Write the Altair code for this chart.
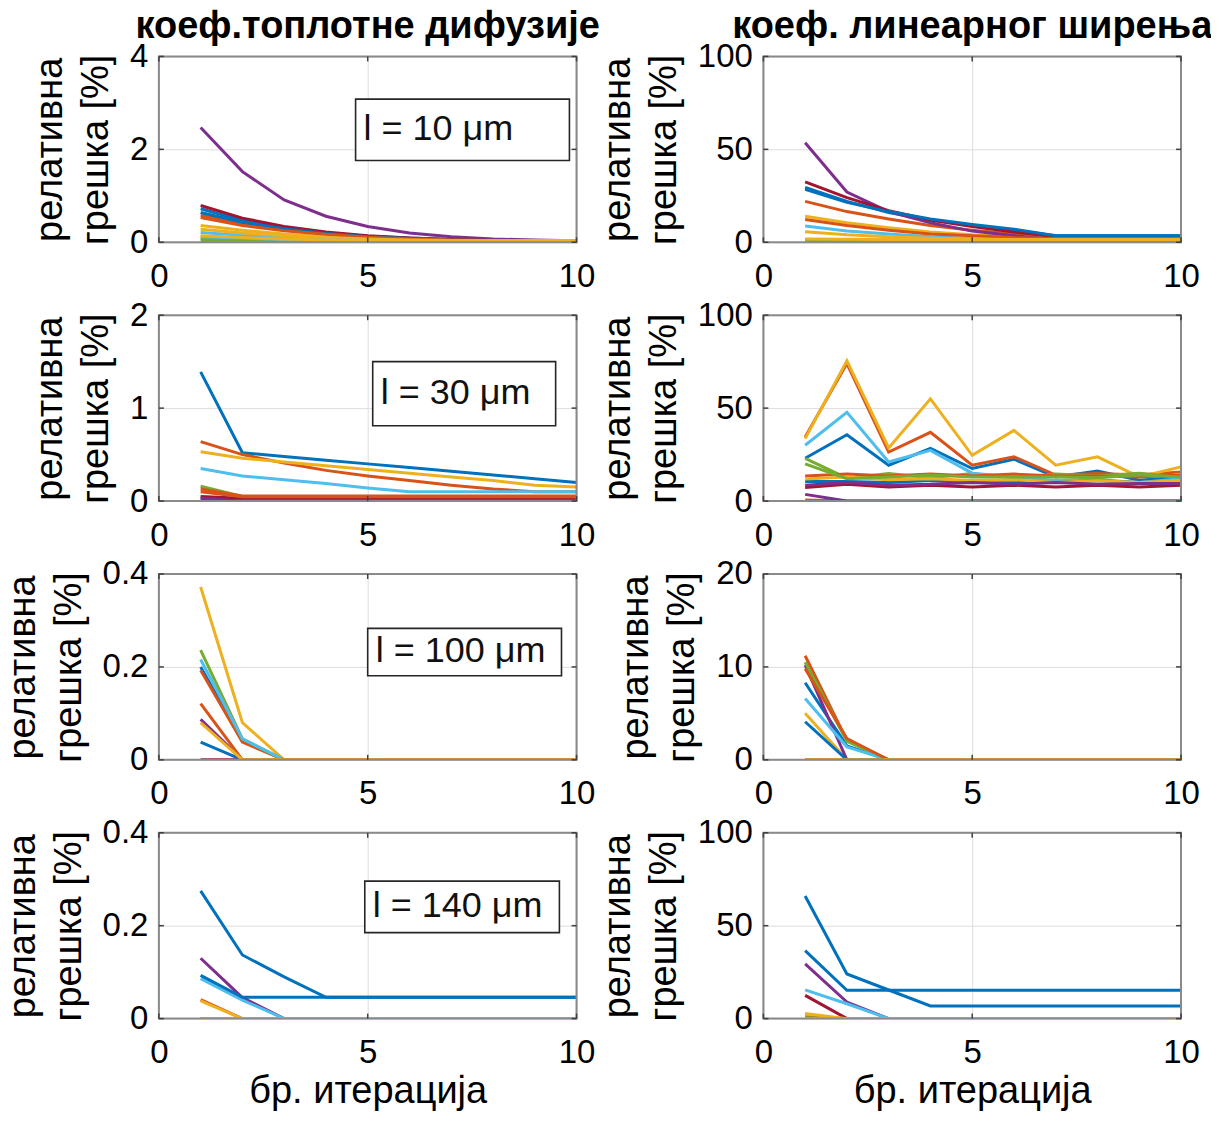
import altair as alt
import pandas as pd

FONT = "Liberation Sans"
ITER = list(range(1, 11))
XTICKS = [0, 5, 10]
YTITLE = ["релативна", "грешка [%]"]
XTITLE = "бр. итерација"
TITLE_LEFT = "коеф.топлотне дифузије"
TITLE_RIGHT = "коеф. линеарног ширења"

PALETTE = {
    "blue": "#0072BD", "orange": "#D95319", "yellow": "#EDB120", "purple": "#7E2F8E",
    "green": "#77AC30", "cyan": "#4DBEEE", "darkred": "#A2142F",
}

# ---- l = 10 um, thermal diffusivity ----
A1_COLORS = ["blue", "orange", "yellow", "purple", "green", "cyan", "darkred",
             "blue", "orange", "yellow", "green", "cyan", "yellow"]
A1_VALUES = [
    [0.72, 0.47, 0.31, 0.20, 0.13, 0.09, 0.06, 0.04, 0.03, 0.03],
    [0.58, 0.40, 0.27, 0.18, 0.12, 0.08, 0.05, 0.04, 0.03, 0.03],
    [0.36, 0.26, 0.18, 0.12, 0.08, 0.06, 0.04, 0.03, 0.03, 0.03],
    [2.47, 1.52, 0.91, 0.56, 0.34, 0.20, 0.12, 0.07, 0.05, 0.03],
    [0.04, 0.03, 0.03, 0.02, 0.02, 0.02, 0.02, 0.02, 0.02, 0.02],
    [0.21, 0.15, 0.10, 0.07, 0.05, 0.04, 0.03, 0.03, 0.03, 0.03],
    [0.79, 0.52, 0.34, 0.22, 0.14, 0.09, 0.06, 0.04, 0.03, 0.03],
    [0.64, 0.43, 0.29, 0.19, 0.12, 0.08, 0.05, 0.04, 0.03, 0.03],
    [0.53, 0.36, 0.25, 0.17, 0.11, 0.07, 0.05, 0.04, 0.03, 0.03],
    [0.28, 0.20, 0.14, 0.10, 0.07, 0.05, 0.04, 0.03, 0.03, 0.03],
    [0.08, 0.06, 0.04, 0.03, 0.03, 0.02, 0.02, 0.02, 0.02, 0.02],
    [0.12, 0.09, 0.06, 0.05, 0.04, 0.03, 0.03, 0.03, 0.03, 0.03],
    [0.14, 0.10, 0.07, 0.05, 0.04, 0.04, 0.04, 0.04, 0.04, 0.04],
]

# ---- l = 10 um, linear expansion ----
B1_COLORS = ["blue", "orange", "yellow", "purple", "green", "cyan", "darkred",
             "blue", "orange", "yellow", "green", "yellow"]
B1_VALUES = [
    [29.5, 22.0, 16.0, 12.0, 9.0, 6.5, 3.5, 3.5, 3.5, 3.5],
    [22.0, 16.5, 12.5, 9.0, 6.5, 4.5, 3.0, 3.0, 3.0, 3.0],
    [14.0, 10.5, 7.8, 5.5, 4.0, 3.0, 2.5, 2.5, 2.5, 2.5],
    [53.5, 27.0, 16.5, 10.5, 6.0, 3.5, 1.5, 1.0, 0.7, 0.5],
    [1.5, 1.2, 1.0, 0.8, 0.6, 0.5, 0.5, 0.5, 0.5, 0.5],
    [8.7, 6.0, 4.5, 3.0, 2.0, 1.5, 1.5, 1.5, 1.5, 1.5],
    [32.5, 24.0, 17.0, 12.0, 8.5, 5.5, 3.0, 3.0, 3.0, 3.0],
    [28.5, 21.5, 16.5, 12.5, 9.5, 7.0, 3.5, 3.5, 3.5, 3.5],
    [12.3, 9.0, 6.5, 4.5, 3.5, 2.5, 2.0, 2.0, 2.0, 2.0],
    [5.6, 4.0, 3.0, 2.2, 1.8, 1.5, 1.5, 1.5, 1.5, 1.5],
    [0.8, 0.7, 0.6, 0.5, 0.5, 0.5, 0.5, 0.5, 0.5, 0.5],
    [1.8, 1.6, 1.5, 1.5, 1.5, 1.5, 1.5, 1.5, 1.5, 1.5],
]

# ---- l = 30 um, thermal diffusivity ----
A2_COLORS = ["blue", "orange", "yellow", "green", "cyan", "blue",
             "orange", "darkred", "orange", "purple"]
A2_VALUES = [
    [1.39, 0.52, 0.48, 0.44, 0.40, 0.36, 0.32, 0.28, 0.24, 0.20],
    [0.64, 0.50, 0.41, 0.33, 0.27, 0.22, 0.17, 0.13, 0.10, 0.10],
    [0.53, 0.46, 0.42, 0.38, 0.34, 0.30, 0.26, 0.22, 0.17, 0.15],
    [0.16, 0.05, 0.05, 0.05, 0.05, 0.05, 0.05, 0.05, 0.05, 0.05],
    [0.35, 0.27, 0.23, 0.19, 0.14, 0.10, 0.10, 0.10, 0.10, 0.10],
    [0.03, 0.0, 0.0, 0.0, 0.0, 0.0, 0.0, 0.0, 0.0, 0.0],
    [0.13, 0.055, 0.055, 0.055, 0.055, 0.055, 0.055, 0.055, 0.055, 0.055],
    [0.05, 0.03, 0.03, 0.03, 0.03, 0.03, 0.03, 0.03, 0.03, 0.03],
    [0.10, 0.045, 0.045, 0.045, 0.045, 0.045, 0.045, 0.045, 0.045, 0.045],
    [0.03, 0.0, 0.0, 0.0, 0.0, 0.0, 0.0, 0.0, 0.0, 0.0],
]

# ---- l = 30 um, linear expansion ----
B2_COLORS = ["blue", "orange", "yellow", "green", "cyan", "darkred",
             "blue", "orange", "yellow", "purple", "green", "orange", "purple"]
B2_VALUES = [
    [23.0, 35.7, 19.3, 28.3, 17.5, 22.5, 13.0, 16.2, 11.2, 13.0],
    [34.5, 74.0, 26.4, 37.0, 19.3, 23.8, 14.0, 14.8, 14.0, 15.7],
    [33.6, 75.5, 28.6, 55.0, 24.6, 38.0, 19.3, 23.8, 13.0, 18.4],
    [23.0, 12.3, 14.8, 12.5, 14.8, 12.5, 14.5, 13.5, 15.0, 13.0],
    [30.0, 47.8, 21.0, 27.3, 15.0, 13.0, 11.0, 11.5, 10.0, 12.0],
    [7.3, 9.0, 7.5, 8.5, 7.5, 8.5, 7.5, 8.5, 7.5, 8.5],
    [10.5, 10.5, 10.0, 11.0, 10.0, 10.5, 10.0, 11.0, 10.0, 10.5],
    [13.5, 14.5, 13.5, 14.5, 13.5, 14.5, 13.5, 13.5, 13.0, 14.0],
    [11.8, 13.0, 11.5, 12.0, 11.0, 11.5, 10.0, 11.0, 10.0, 11.0],
    [8.5, 10.0, 8.5, 9.0, 10.0, 9.0, 10.0, 9.0, 9.5, 9.5],
    [20.0, 12.0, 13.0, 14.0, 13.0, 13.0, 13.0, 12.5, 14.0, 13.0],
    [0.5, 0.0, 0.0, 0.0, 0.0, 0.0, 0.0, 0.0, 0.0, 0.0],
    [3.6, 0.0, 0.0, 0.0, 0.0, 0.0, 0.0, 0.0, 0.0, 0.0],
]

# ---- l = 100 um, thermal diffusivity ----
A3_COLORS = ["blue", "orange", "yellow", "purple", "green", "cyan", "darkred",
             "blue", "orange", "yellow"]
A3_VALUES = [
    [0.200, 0.040, 0.0, 0.0, 0.0, 0.0, 0.0, 0.0, 0.0, 0.0],
    [0.193, 0.038, 0.0, 0.0, 0.0, 0.0, 0.0, 0.0, 0.0, 0.0],
    [0.372, 0.080, 0.0, 0.0, 0.0, 0.0, 0.0, 0.0, 0.0, 0.0],
    [0.087, 0.0, 0.0, 0.0, 0.0, 0.0, 0.0, 0.0, 0.0, 0.0],
    [0.236, 0.045, 0.0, 0.0, 0.0, 0.0, 0.0, 0.0, 0.0, 0.0],
    [0.216, 0.045, 0.0, 0.0, 0.0, 0.0, 0.0, 0.0, 0.0, 0.0],
    [0.0, 0.0, 0.0, 0.0, 0.0, 0.0, 0.0, 0.0, 0.0, 0.0],
    [0.038, 0.0, 0.0, 0.0, 0.0, 0.0, 0.0, 0.0, 0.0, 0.0],
    [0.121, 0.0, 0.0, 0.0, 0.0, 0.0, 0.0, 0.0, 0.0, 0.0],
    [0.080, 0.0, 0.0, 0.0, 0.0, 0.0, 0.0, 0.0, 0.0, 0.0],
]

# ---- l = 100 um, linear expansion ----
B3_COLORS = ["blue", "orange", "yellow", "purple", "green", "cyan", "darkred",
             "blue", "orange", "yellow"]
B3_VALUES = [
    [8.3, 1.5, 0.0, 0.0, 0.0, 0.0, 0.0, 0.0, 0.0, 0.0],
    [11.2, 2.1, 0.0, 0.0, 0.0, 0.0, 0.0, 0.0, 0.0, 0.0],
    [5.0, 0.0, 0.0, 0.0, 0.0, 0.0, 0.0, 0.0, 0.0, 0.0],
    [10.2, 0.0, 0.0, 0.0, 0.0, 0.0, 0.0, 0.0, 0.0, 0.0],
    [10.5, 2.0, 0.0, 0.0, 0.0, 0.0, 0.0, 0.0, 0.0, 0.0],
    [6.6, 1.4, 0.0, 0.0, 0.0, 0.0, 0.0, 0.0, 0.0, 0.0],
    [0.0, 0.0, 0.0, 0.0, 0.0, 0.0, 0.0, 0.0, 0.0, 0.0],
    [4.1, 0.0, 0.0, 0.0, 0.0, 0.0, 0.0, 0.0, 0.0, 0.0],
    [9.8, 2.3, 0.0, 0.0, 0.0, 0.0, 0.0, 0.0, 0.0, 0.0],
    [0.0, 0.0, 0.0, 0.0, 0.0, 0.0, 0.0, 0.0, 0.0, 0.0],
]

# ---- l = 140 um, thermal diffusivity ----
A4_COLORS = ["blue", "orange", "purple", "green", "cyan", "darkred",
             "blue", "yellow", "yellow"]
A4_VALUES = [
    [0.275, 0.137, 0.090, 0.046, 0.046, 0.046, 0.046, 0.046, 0.046, 0.046],
    [0.041, 0.0, 0.0, 0.0, 0.0, 0.0, 0.0, 0.0, 0.0, 0.0],
    [0.130, 0.045, 0.0, 0.0, 0.0, 0.0, 0.0, 0.0, 0.0, 0.0],
    [0.0, 0.0, 0.0, 0.0, 0.0, 0.0, 0.0, 0.0, 0.0, 0.0],
    [0.086, 0.040, 0.0, 0.0, 0.0, 0.0, 0.0, 0.0, 0.0, 0.0],
    [0.0, 0.0, 0.0, 0.0, 0.0, 0.0, 0.0, 0.0, 0.0, 0.0],
    [0.093, 0.046, 0.046, 0.046, 0.046, 0.046, 0.046, 0.046, 0.046, 0.046],
    [0.038, 0.0, 0.0, 0.0, 0.0, 0.0, 0.0, 0.0, 0.0, 0.0],
    [0.0, 0.0, 0.0, 0.0, 0.0, 0.0, 0.0, 0.0, 0.0, 0.0],
]

# ---- l = 140 um, linear expansion ----
B4_COLORS = ["blue", "orange", "purple", "green", "cyan", "darkred",
             "blue", "yellow", "yellow"]
B4_VALUES = [
    [66.0, 24.0, 15.4, 6.8, 6.8, 6.8, 6.8, 6.8, 6.8, 6.8],
    [1.0, 0.0, 0.0, 0.0, 0.0, 0.0, 0.0, 0.0, 0.0, 0.0],
    [29.5, 8.9, 0.0, 0.0, 0.0, 0.0, 0.0, 0.0, 0.0, 0.0],
    [0.5, 0.0, 0.0, 0.0, 0.0, 0.0, 0.0, 0.0, 0.0, 0.0],
    [15.5, 8.0, 0.0, 0.0, 0.0, 0.0, 0.0, 0.0, 0.0, 0.0],
    [12.5, 0.0, 0.0, 0.0, 0.0, 0.0, 0.0, 0.0, 0.0, 0.0],
    [36.6, 15.2, 15.2, 15.2, 15.2, 15.2, 15.2, 15.2, 15.2, 15.2],
    [2.7, 0.0, 0.0, 0.0, 0.0, 0.0, 0.0, 0.0, 0.0, 0.0],
    [0.0, 0.0, 0.0, 0.0, 0.0, 0.0, 0.0, 0.0, 0.0, 0.0],
]

LEFT_YMAX = [4, 2, 0.4, 0.4]
LEFT_YTICKS = [[0, 2, 4], [0, 1, 2], [0, 0.2, 0.4], [0, 0.2, 0.4]]
RIGHT_YMAX = [100, 100, 20, 100]
RIGHT_YTICKS = [[0, 50, 100], [0, 50, 100], [0, 10, 20], [0, 50, 100]]

LEGEND_TEXT = ["l = 10 μm", "l = 30 μm", "l = 100 μm", "l = 140 μm"]
# legend boxes (data coordinates of the left-hand panels)
LEGEND_X0 = [4.71, 5.12, 5.0, 4.93]
LEGEND_X1 = [9.83, 9.5, 9.64, 9.59]
LEGEND_Y0 = [1.76, 0.81, 0.181, 0.185]
LEGEND_Y1 = [3.08, 1.5, 0.283, 0.296]

W, H = 418, 186
TICK_LEN = 5
TICK_FS, LABEL_FS, TITLE_FS, LEG_FS = 33, 38, 38, 36
LABEL_EXPR = "'' + datum.value"


def panel(colors, values, ymax, yticks, title=None, xtitle=False, legend_idx=None):
    rows = []
    for i, (c, vals) in enumerate(zip(colors, values)):
        for it, v in zip(ITER, vals):
            rows.append({"it": it, "err": v, "s": f"s{i:02d}", "col": PALETTE[c]})
    df = pd.DataFrame(rows)
    xscale = alt.Scale(domain=[0, 10], nice=False, zero=False)
    yscale = alt.Scale(domain=[0, ymax], nice=False)
    xaxis = alt.Axis(values=XTICKS, title=XTITLE if xtitle else None, grid=True,
                     labelFontSize=TICK_FS, titleFontSize=LABEL_FS, labelPadding=18,
                     titlePadding=3, ticks=False, domain=False, labelExpr=LABEL_EXPR,
                     titleFontWeight="normal", labelFlush=False)
    yaxis = alt.Axis(values=yticks, title=YTITLE, grid=True, labelFontSize=TICK_FS,
                     titleFontSize=LABEL_FS, labelPadding=11, titlePadding=14,
                     titleLineHeight=46,
                     ticks=False, domain=False, labelExpr=LABEL_EXPR,
                     titleFontWeight="normal", labelFlush=False)

    frame = alt.Chart(pd.DataFrame({"a": [0]})).mark_rect(
        fill=None, stroke="#8a8a8a", strokeWidth=2
    ).encode(x=alt.value(0), x2=alt.value(W), y=alt.value(0), y2=alt.value(H))

    # inward tick marks (MATLAB style)
    xt = pd.DataFrame({"v": XTICKS})
    yt = pd.DataFrame({"v": yticks})
    tick_style = dict(color="#404040", strokeWidth=1.5)
    xt_bot = alt.Chart(xt).mark_rule(**tick_style).encode(
        x=alt.X("v:Q", scale=xscale), y=alt.value(H), y2=alt.value(H - TICK_LEN))
    xt_top = alt.Chart(xt).mark_rule(**tick_style).encode(
        x=alt.X("v:Q", scale=xscale), y=alt.value(0), y2=alt.value(TICK_LEN))
    yt_left = alt.Chart(yt).mark_rule(**tick_style).encode(
        y=alt.Y("v:Q", scale=yscale), x=alt.value(0), x2=alt.value(TICK_LEN))
    yt_right = alt.Chart(yt).mark_rule(**tick_style).encode(
        y=alt.Y("v:Q", scale=yscale), x=alt.value(W), x2=alt.value(W - TICK_LEN))

    lines = alt.Chart(df).mark_line(strokeWidth=3, clip=True).encode(
        x=alt.X("it:Q", scale=xscale, axis=xaxis),
        y=alt.Y("err:Q", scale=yscale, axis=yaxis),
        color=alt.Color("col:N", scale=None, legend=None),
        detail="s:N",
    )
    layers = [lines, frame, xt_bot, xt_top, yt_left, yt_right]
    if legend_idx is not None:
        k = legend_idx
        ldf = pd.DataFrame({"x0": [LEGEND_X0[k]], "x1": [LEGEND_X1[k]],
                            "y0": [LEGEND_Y0[k]], "y1": [LEGEND_Y1[k]],
                            "ym": [(LEGEND_Y0[k] + LEGEND_Y1[k]) / 2],
                            "t": [LEGEND_TEXT[k]]})
        box = alt.Chart(ldf).mark_rect(fill="white", stroke="#262626", strokeWidth=1.6).encode(
            x=alt.X("x0:Q", scale=xscale), x2="x1:Q",
            y=alt.Y("y0:Q", scale=yscale), y2="y1:Q")
        txt = alt.Chart(ldf).mark_text(align="left", baseline="middle", dx=8, dy=-1,
                                       fontSize=LEG_FS, font=FONT, color="#111111").encode(
            x=alt.X("x0:Q", scale=xscale), y=alt.Y("ym:Q", scale=yscale), text="t:N")
        layers += [box, txt]
    ch = alt.layer(*layers).properties(width=W, height=H)
    if title:
        ch = ch.properties(title=alt.TitleParams(title, fontSize=TITLE_FS, fontWeight="bold",
                                                 anchor="middle", frame="group", offset=-6,
                                                 font=FONT, color="#000000"))
    return ch


LEFT = [(A1_COLORS, A1_VALUES), (A2_COLORS, A2_VALUES), (A3_COLORS, A3_VALUES), (A4_COLORS, A4_VALUES)]
RIGHT = [(B1_COLORS, B1_VALUES), (B2_COLORS, B2_VALUES), (B3_COLORS, B3_VALUES), (B4_COLORS, B4_VALUES)]

panels = []
for r in range(4):
    lc, lv = LEFT[r]
    rc, rv = RIGHT[r]
    panels.append(panel(lc, lv, LEFT_YMAX[r], LEFT_YTICKS[r],
                        title=TITLE_LEFT if r == 0 else None, xtitle=(r == 3), legend_idx=r))
    panels.append(panel(rc, rv, RIGHT_YMAX[r], RIGHT_YTICKS[r],
                        title=TITLE_RIGHT if r == 0 else None, xtitle=(r == 3)))

chart = alt.concat(*panels, columns=2, spacing={"row": 73, "column": 187}, bounds="flush").properties(
    padding={"left": -5, "top": -1, "right": -2, "bottom": -1}
).configure_view(stroke=None).configure_axis(
    labelFont=FONT, titleFont=FONT, labelColor="#262626", titleColor="#262626",
    gridColor="#e3e3e3", gridWidth=1, titleFontWeight="normal"
).configure(background="white")

chart.save("out.html", embed_options={"renderer": "svg", "actions": False})
